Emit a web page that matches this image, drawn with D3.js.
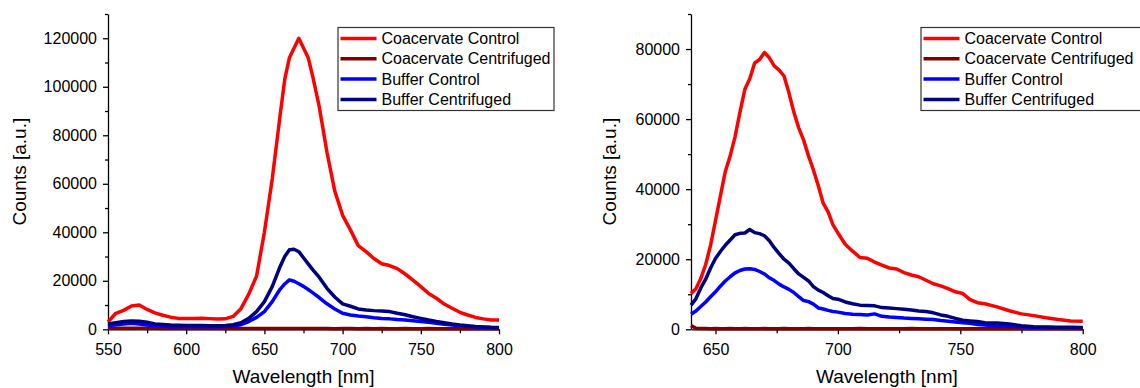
<!DOCTYPE html>
<html>
<head>
<meta charset="utf-8">
<script src="https://cdn.jsdelivr.net/npm/d3@7"></script>
<style>
  body { margin: 0; background: #fff; }
  svg { display: block; }
  text { font-family: "Liberation Sans", Arial, sans-serif; fill: #000; }
</style>
</head>
<body>
<svg id="chart" width="1140" height="388"></svg>
<script>
// ---- Emission spectra, full range (left panel) ----
const leftWavelength = [550,555,560,565,570,575,580,585,590,595,600,605,610,615,620,625,630,635,640,645,650,655,660,
  663,666,669,672,675,678,681,
  685,690,695,700,705,710,715,720,725,730,735,740,745,750,755,760,765,770,775,780,785,790,795,800];
const leftCoacControl = [3000,6600,7800,9600,10000,8200,6800,5800,5000,4500,4500,4500,4600,4400,4200,4300,5300,8500,14500,22000,40000,62000,88000,
  103000,112000,116000,120000,116000,112000,104000,
  92000,73000,57000,47000,41000,34500,32000,29200,27000,26300,25000,22800,20300,17600,14800,12800,10400,8700,7000,5900,4900,4300,3800,3800];
const leftCoacCentrifuged = [500,450,450,400,450,400,400,350,400,350,350,400,350,350,300,350,300,350,300,300,350,300,300,
  300,350,300,300,300,350,300,
  300,300,250,300,300,250,300,250,300,250,250,300,250,250,300,250,250,250,300,250,250,250,250,250];
const leftBufferControl = [1500,1900,2200,2500,2200,1800,1500,1300,1100,1100,1100,1100,1100,1100,1100,1200,1400,1900,3200,4900,7300,11400,16500,
  18700,20400,19800,18800,17700,16400,15000,
  13100,10500,8400,6600,5900,5500,5200,4800,4500,4300,4000,3800,3500,3200,2900,2500,2100,1800,1500,1200,1000,800,600,500];
const leftBufferCentrifuged = [2200,2700,3200,3400,3300,2900,2200,2000,1800,1700,1600,1600,1600,1500,1500,1600,1900,2700,4500,7300,11400,17600,25800,
  30000,32800,33000,32000,29500,27000,24500,
  21500,16900,13300,10500,9500,8400,8000,7700,7500,7300,6600,6000,5200,4500,3800,3200,2700,2200,1800,1500,1200,1000,800,700];
const leftXTicks = [550,600,650,700,750,800];
const leftYTicks = [0,20000,40000,60000,80000,100000,120000];

// ---- Emission spectra, zoomed range (right panel) ----
const rightWavelength = [640,642,644,646,648,650,652,654,656,658,660,662,664,666,668,670,672,674,676,678,680,682,684,686,688,690,692,694,696,698,700,
  703,706,709,712,715,718,721,724,727,730,733,736,739,742,745,748,751,754,757,760,
  765,770,775,780,785,790,795,800];
const rightCoacControl = [10200,11600,14500,18500,24000,31000,38000,45000,49500,55000,62000,68500,71500,76000,77000,79000,77500,75200,74000,72300,67500,62000,57500,54000,49500,45500,41000,36000,33500,29800,27500,
  24300,22300,20500,20300,19200,18300,17500,17200,16200,15500,15000,14000,13000,12400,11600,10700,10200,8500,7600,7300,
  6400,5300,4400,3900,3300,2800,2400,2300];
const rightCoacCentrifuged = [1100,300,200,200,150,200,150,150,200,150,150,200,150,150,150,200,150,150,150,200,150,150,150,150,200,150,150,150,150,150,150,
  150,150,200,150,150,150,150,150,150,200,150,150,150,150,150,150,150,150,150,150,
  150,150,150,150,150,150,150,150];
const rightBufferControl = [4300,5200,6500,7800,9300,10700,12300,13800,15000,16100,16800,17200,17300,17100,16500,15800,14700,13900,12900,12100,11400,10500,9300,8200,7900,7200,6100,5800,5400,5100,4900,
  4500,4300,4200,4100,4400,3700,3500,3400,3200,3100,3000,2900,2800,2500,2300,2100,1900,1700,1400,1200,
  950,850,700,550,480,450,400,380];
const rightBufferCentrifuged = [6900,8700,11800,14300,17500,20200,22200,24000,25500,27000,27400,27500,28500,27600,27300,26700,25300,23300,21600,20000,18900,17300,15800,14800,13800,12200,11200,10500,9600,8800,8600,
  7800,7300,6900,6800,6700,6200,6100,5900,5700,5500,5200,5100,4700,4100,3700,3100,2600,2400,2200,1900,
  1800,1500,1000,750,650,600,550,480];
const rightXTicks = [650,700,750,800];
const rightYTicks = [0,20000,40000,60000,80000];

// ---- Series names and colours ----
const seriesNames = ["Coacervate Control", "Coacervate Centrifuged", "Buffer Control", "Buffer Centrifuged"];
const seriesColors = ["#ff0000", "#800000", "#0000ff", "#000080"];

const svg = d3.select("#chart");

function drawPanel(opt) {
  const x = d3.scaleLinear().domain(opt.xDomain).range(opt.xRange);
  const y = d3.scaleLinear().domain(opt.yDomain).range(opt.yRange);
  const g = svg.append("g");

  // minor ticks
  g.append("g")
    .attr("transform", `translate(0,${opt.yRange[0]})`)
    .call(d3.axisBottom(x).tickValues(opt.xMinor).tickSize(4).tickFormat("").tickSizeOuter(0))
    .call(s => s.select(".domain").remove());
  g.append("g")
    .attr("transform", `translate(${opt.xRange[0]},0)`)
    .call(d3.axisLeft(y).tickValues(opt.yMinor).tickSize(3).tickFormat("").tickSizeOuter(0))
    .call(s => s.select(".domain").remove());

  // major axes
  const xa = g.append("g")
    .attr("transform", `translate(0,${opt.yRange[0]})`)
    .call(d3.axisBottom(x).tickValues(opt.xTicks).tickSize(5).tickPadding(9).tickSizeOuter(0).tickFormat(d3.format("d")));
  const ya = g.append("g")
    .attr("transform", `translate(${opt.xRange[0]},0)`)
    .call(d3.axisLeft(y).tickValues(opt.yTicks).tickSize(5).tickPadding(6).tickSizeOuter(0).tickFormat(d3.format("d")));
  [xa, ya].forEach(a => {
    a.selectAll("text").style("font-size", "16px").style("font-family", '"Liberation Sans", Arial, sans-serif').attr("fill", "#000");
    a.selectAll("line,path").attr("stroke", "#000").attr("stroke-width", 1.3);
  });
  g.selectAll(".tick line").attr("stroke", "#000").attr("stroke-width", 1.3);

  // axis titles
  g.append("text")
    .attr("x", (opt.xRange[0] + opt.xRange[1]) / 2)
    .attr("y", 383)
    .attr("text-anchor", "middle")
    .style("font-size", "19px")
    .text("Wavelength [nm]");
  g.append("text")
    .attr("transform", `translate(${opt.yLabelX},${(opt.yRange[0] + opt.yRange[1]) / 2}) rotate(-90)`)
    .attr("text-anchor", "middle")
    .style("font-size", "19px")
    .text("Counts [a.u.]");

  // spectra
  const line = d3.line()
    .x((d, i) => x(opt.wavelength[i]))
    .y(d => y(d));
  opt.series.forEach((vals, k) => {
    g.append("path")
      .datum(vals)
      .attr("d", line)
      .attr("fill", "none")
      .attr("stroke", seriesColors[k])
      .attr("stroke-width", 3.5)
      .attr("stroke-linejoin", "round");
  });

  // legend
  const lg = g.append("g");
  lg.append("rect")
    .attr("x", opt.legendX + 0.5).attr("y", 27.5)
    .attr("width", opt.legendW).attr("height", 83)
    .attr("fill", "#fff").attr("stroke", "#333").attr("stroke-width", 1.2);
  seriesNames.forEach((name, k) => {
    const ry = 38.5 + k * 20.3;
    lg.append("line")
      .attr("x1", opt.legendX + 3).attr("x2", opt.legendX + 39)
      .attr("y1", ry).attr("y2", ry)
      .attr("stroke", seriesColors[k]).attr("stroke-width", 3.5);
    lg.append("text")
      .attr("x", opt.legendX + 44).attr("y", ry)
      .attr("dominant-baseline", "central")
      .style("font-size", "16px")
      .text(name);
  });
}

drawPanel({
  wavelength: leftWavelength,
  series: [leftCoacControl, leftCoacCentrifuged, leftBufferControl, leftBufferCentrifuged],
  xDomain: [550, 800], xRange: [108, 499],
  yDomain: [0, 130000], yRange: [329.3, 14],
  xTicks: leftXTicks, xMinor: [575, 625, 675, 725, 775],
  yTicks: leftYTicks, yMinor: d3.range(10000, 130001, 20000),
  yLabelX: 25.5,
  legendX: 337.5, legendW: 216
});

drawPanel({
  wavelength: rightWavelength,
  series: [rightCoacControl, rightCoacCentrifuged, rightBufferControl, rightBufferCentrifuged],
  xDomain: [640, 800], xRange: [691, 1082.7],
  yDomain: [0, 90000], yRange: [329.3, 14],
  xTicks: rightXTicks, xMinor: [675, 725, 775],
  yTicks: rightYTicks, yMinor: d3.range(10000, 90001, 20000),
  yLabelX: 616,
  legendX: 920.5, legendW: 222
});
</script>
</body>
</html>
